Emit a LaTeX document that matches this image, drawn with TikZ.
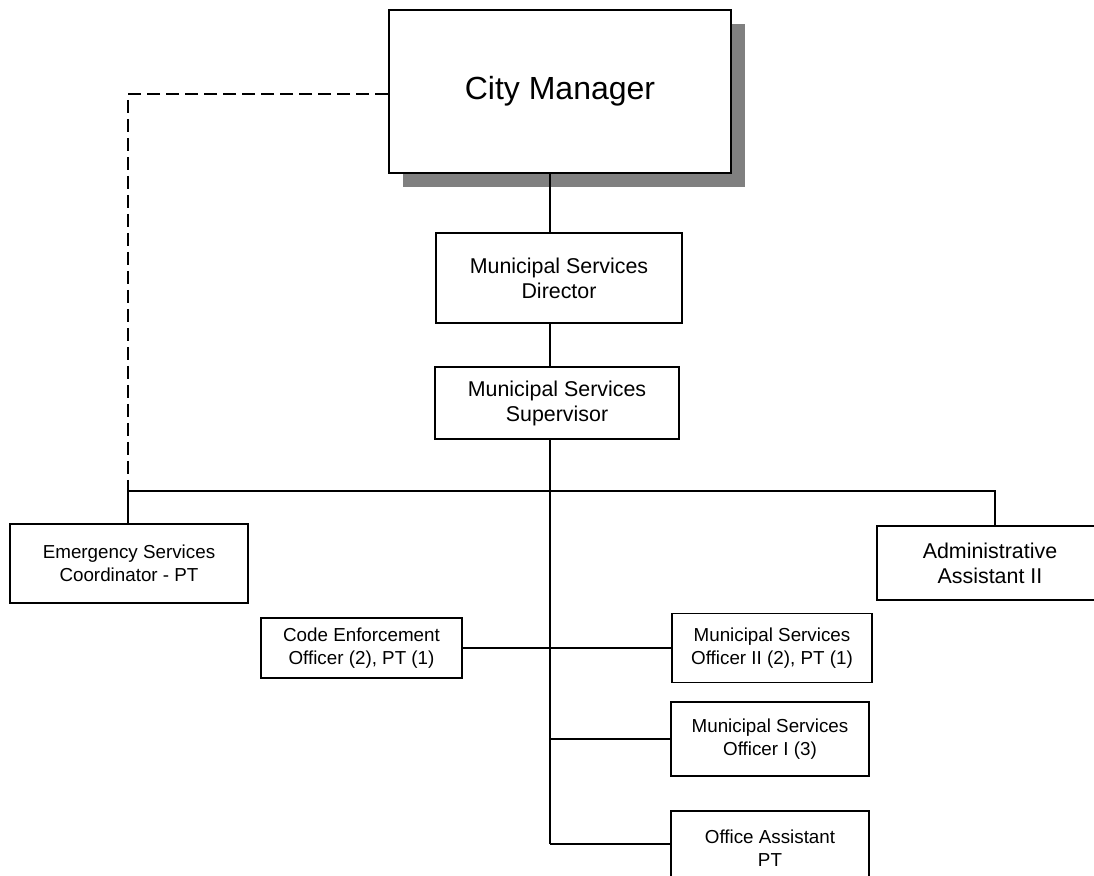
\documentclass[tikz,border=0pt]{standalone}
\usepackage{fontspec}
\setmainfont{Liberation Sans}
\usetikzlibrary{shadows}
\begin{document}
\begin{tikzpicture}[x=0.5pt,y=-0.5pt,
  post/.style={draw=black, line width=0.9pt, fill=white, align=center, inner sep=0pt},
  bigpost/.style={post, font=\fontsize{16}{19}\selectfont,
    drop shadow={shadow xshift=7pt, shadow yshift=-7pt, fill=black!50, opacity=1}},
  midpost/.style={post, font=\fontsize{10.7}{12.5}\selectfont},
  smallpost/.style={post, font=\fontsize{9.4}{11.5}\selectfont},
  link/.style={draw=black, line width=0.8pt},
  dotted link/.style={link, dash pattern=on 6.5pt off 3pt}]
\useasboundingbox (0,0) rectangle (1094,875);

% positions
\node[bigpost, minimum width=171pt, minimum height=81.5pt] (cm) at (560,91.5) {City Manager};
\node[midpost, minimum width=123pt, minimum height=45pt] (dir) at (559,278) {Municipal Services\\Director};
\node[midpost, minimum width=122pt, minimum height=36pt] (sup) at (557,403) {Municipal Services\\Supervisor};
\node[smallpost, minimum width=119pt, minimum height=39.5pt] (esc) at (129,563.5) {Emergency Services\\Coordinator - PT};
\node[midpost, minimum width=113pt, minimum height=37pt] (adm) at (990,563) {Administrative\\Assistant II};
\node[smallpost, minimum width=100.5pt, minimum height=30pt] (ceo) at (361.5,648) {Code Enforcement\\Officer (2), PT (1)};
\node[smallpost, minimum width=100pt, minimum height=34.5pt] (ms2) at (772,648) {Municipal Services\\Officer II (2), PT (1)};
\node[smallpost, minimum width=99pt, minimum height=37pt] (ms1) at (770,739) {Municipal Services\\Officer I (3)};
\node[smallpost, minimum width=99pt, minimum height=37pt] (oa) at (770,848) {Office Assistant\\PT};

% trunk and branch points
\coordinate (spine) at (550,0);
\coordinate (bar) at (0,491);
\coordinate (barL) at (128,491);
\coordinate (barR) at (995,491);
\coordinate (trunkEnd) at (550,844);

% solid reporting lines
\draw[link] (cm.south -| spine) -- (dir.north -| spine);
\draw[link] (dir.south -| spine) -- (sup.north -| spine);
\draw[link] (sup.south -| spine) -- (trunkEnd);
\draw[link] (esc.north -| barL) -- (barL) -- (barR) -- (adm.north -| barR);
\draw[link] (ceo.east) -- (ms2.west);
\draw[link] (ms1.west -| spine) -- (ms1.west);
\draw[link] (trunkEnd) -- (trunkEnd -| oa.west);

% dashed advisory line
\draw[dotted link] (cm.west |- 0,94) -- (128,94) -- (barL);
\end{tikzpicture}
\end{document}
